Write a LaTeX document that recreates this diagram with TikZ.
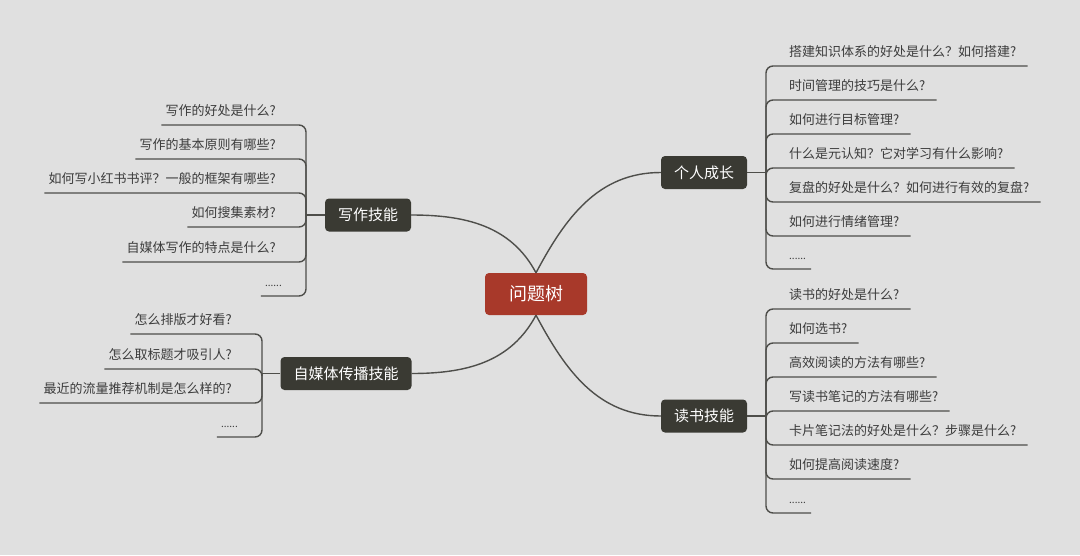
\documentclass[tikz,border=0pt]{standalone}
\usepackage{fontspec}
\setmainfont{Noto Sans CJK SC}
\definecolor{bgc}{HTML}{E0E0E0}
\definecolor{rootc}{HTML}{A8392A}
\definecolor{brc}{HTML}{3A3A33}
\definecolor{linec}{HTML}{4E4E4A}
\definecolor{txtc}{HTML}{3C3C3C}
\begin{document}
\begin{tikzpicture}[x=1pt,y=1pt,
  rootbox/.style={fill=rootc, text=white, rounded corners=4pt, minimum width=102pt, minimum height=42pt, inner sep=0pt, font=\fontsize{18}{18}\selectfont},
  branchbox/.style={fill=brc, text=white, rounded corners=4pt, minimum height=33pt, inner xsep=13pt, inner ysep=0pt, font=\fontsize{15}{15}\selectfont},
  leafbase/.style={inner ysep=7pt, text height=10pt, text depth=2pt, font=\fontsize{13}{13}\selectfont, text=txtc},
  leafr/.style={leafbase, anchor=south west, inner xsep=11pt},
  leafl/.style={leafbase, anchor=south east, inner xsep=4pt},
  dots/.style={font=\fontsize{10}{10}\selectfont},
  conn/.style={draw=linec, line width=1.4pt},
  leafline/.style={conn, rounded corners=7pt}
]
\useasboundingbox (0,0) rectangle (1080,-555);
\fill[bgc] (0,0) rectangle (1080,-555);

% root and branches
\node[rootbox] (root) at (536,-294) {问题树};
\node[branchbox] (p) at (704,-172.5) {个人成长};
\node[branchbox] (d) at (704,-416) {读书技能};
\node[branchbox] (w) at (368,-215) {写作技能};
\node[branchbox] (m) at (346,-373.5) {自媒体传播技能};

\draw[conn] (root.north) to[out=62,in=180] (p.west);
\draw[conn] (root.north) to[out=118,in=0] (w.east);
\draw[conn] (root.south) to[out=-62,in=180] (d.west);
\draw[conn] (root.south) to[out=-118,in=0] (m.east);

% spine junctions
\coordinate (ps) at (766,-172.5);
\coordinate (ds) at (766,-416);
\coordinate (ws) at (306,-215);
\coordinate (ms) at (262,-373.5);
\draw[conn] (p.east) -- (ps);
\draw[conn] (d.east) -- (ds);
\draw[conn] (w.west) -- (ws);
\draw[conn] (m.west) -- (ms);

% 个人成长 leaves
\node[leafr] (p1) at (778,-66) {搭建知识体系的好处是什么？如何搭建?};
\node[leafr] (p2) at (778,-100) {时间管理的技巧是什么?};
\node[leafr] (p3) at (778,-134) {如何进行目标管理?};
\node[leafr] (p4) at (778,-168) {什么是元认知？它对学习有什么影响?};
\node[leafr] (p5) at (778,-202) {复盘的好处是什么？如何进行有效的复盘?};
\node[leafr] (p6) at (778,-236) {如何进行情绪管理?};
\node[leafr,dots,inner xsep=5pt] (p7) at (784,-269) {......};
\foreach \i in {1,...,7} \draw[leafline] (ps) |- (p\i.south east);

% 读书技能 leaves
\node[leafr] (d1) at (778,-309) {读书的好处是什么?};
\node[leafr] (d2) at (778,-343) {如何选书?};
\node[leafr] (d3) at (778,-377) {高效阅读的方法有哪些?};
\node[leafr] (d4) at (778,-411) {写读书笔记的方法有哪些?};
\node[leafr] (d5) at (778,-445) {卡片笔记法的好处是什么？步骤是什么?};
\node[leafr] (d6) at (778,-479) {如何提高阅读速度?};
\node[leafr,dots,inner xsep=5pt] (d7) at (784,-513) {......};
\foreach \i in {1,...,7} \draw[leafline] (ds) |- (d\i.south east);

% 写作技能 leaves
\node[leafl] (w1) at (280,-125) {写作的好处是什么?};
\node[leafl] (w2) at (280,-159) {写作的基本原则有哪些?};
\node[leafl] (w3) at (280,-193) {如何写小红书书评？一般的框架有哪些?};
\node[leafl] (w4) at (280,-227) {如何搜集素材?};
\node[leafl] (w5) at (280,-262) {自媒体写作的特点是什么?};
\node[leafl,dots] (w6) at (286,-296) {......};
\foreach \i in {1,...,6} \draw[leafline] (ws) |- (w\i.south west);

% 自媒体传播技能 leaves
\node[leafl] (m1) at (236,-334) {怎么排版才好看?};
\node[leafl] (m2) at (236,-369) {怎么取标题才吸引人?};
\node[leafl] (m3) at (236,-403) {最近的流量推荐机制是怎么样的?};
\node[leafl,dots] (m4) at (242,-437) {......};
\foreach \i in {1,...,4} \draw[leafline] (ms) |- (m\i.south west);
\end{tikzpicture}
\end{document}
